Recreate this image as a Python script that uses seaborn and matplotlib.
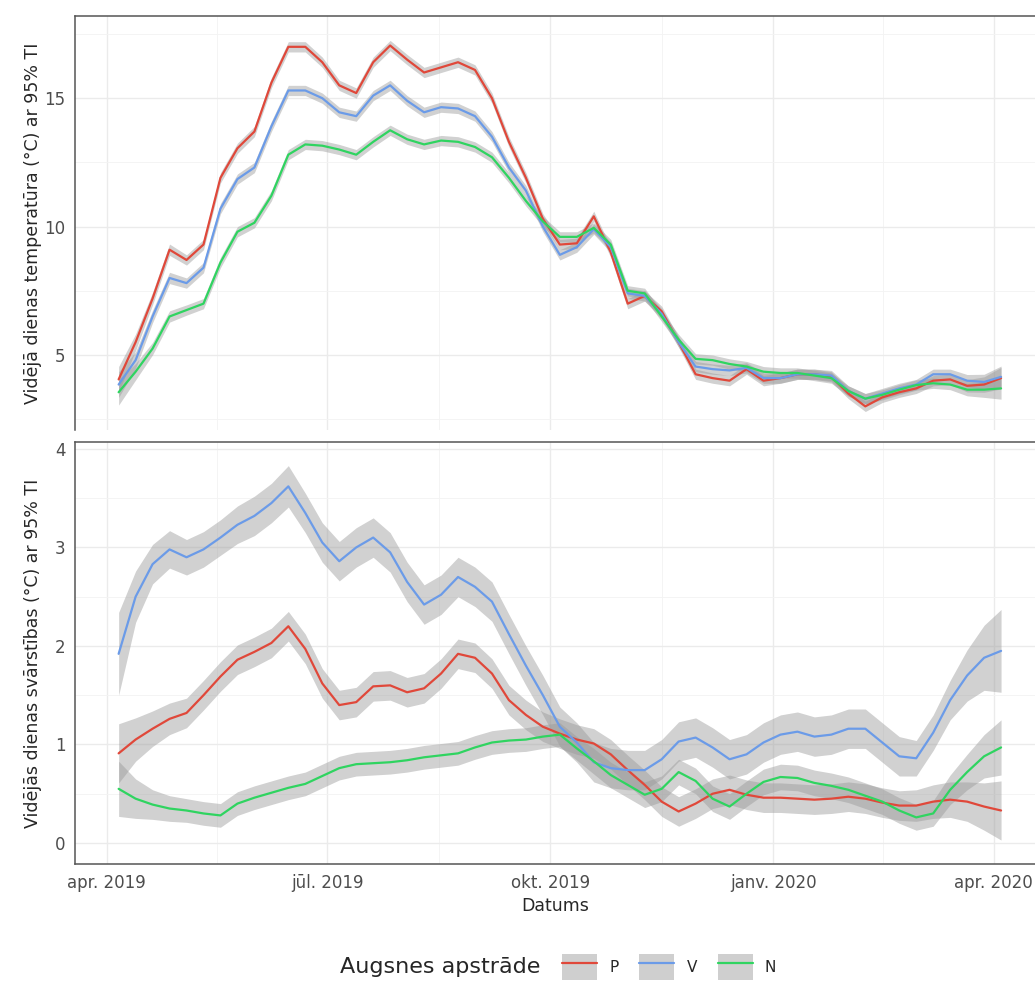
import pandas as pd
import numpy as np
import matplotlib
matplotlib.use("Agg")
import matplotlib.pyplot as plt
from matplotlib.lines import Line2D
from matplotlib.patches import Patch
import seaborn as sns

# weekly samples
dates = pd.date_range("2019-04-06", periods=53, freq="7D")
groups = ["P", "V", "N"]
colors = {"P": "#E0483A", "V": "#6B9BE8", "N": "#2FD460"}

temp_P = [4.05, 5.5, 7.2, 9.1, 8.7, 9.3, 11.9, 13.05, 13.7, 15.6,
          17.0, 17.0, 16.4, 15.5, 15.2, 16.4, 17.05, 16.5, 16.0, 16.2,
          16.4, 16.1, 15.0, 13.3, 11.9, 10.3, 9.3, 9.35, 10.4, 9.0,
          7.0, 7.3, 6.7, 5.5, 4.25, 4.1, 4.0, 4.45, 4.0, 4.1,
          4.25, 4.25, 4.15, 3.5, 3.0, 3.35, 3.55, 3.7, 4.0, 4.05,
          3.8, 3.85, 4.1]
temp_V = [3.85, 4.8, 6.5, 8.0, 7.8, 8.4, 10.7, 11.85, 12.3, 13.9,
          15.3, 15.3, 15.0, 14.45, 14.3, 15.1, 15.5, 14.9, 14.45, 14.65,
          14.6, 14.3, 13.5, 12.3, 11.4, 10.0, 8.9, 9.2, 9.9, 9.2,
          7.4, 7.3, 6.6, 5.5, 4.55, 4.45, 4.4, 4.5, 4.1, 4.1,
          4.25, 4.25, 4.2, 3.6, 3.3, 3.5, 3.7, 3.85, 4.25, 4.25,
          4.0, 3.95, 4.15]
temp_N = [3.55, 4.35, 5.25, 6.5, 6.75, 7.0, 8.6, 9.8, 10.15, 11.2,
          12.8, 13.2, 13.15, 13.0, 12.8, 13.3, 13.75, 13.4, 13.2, 13.35,
          13.3, 13.1, 12.7, 11.9, 11.0, 10.2, 9.6, 9.6, 9.95, 9.3,
          7.5, 7.4, 6.5, 5.6, 4.85, 4.8, 4.65, 4.55, 4.35, 4.3,
          4.3, 4.2, 4.1, 3.6, 3.3, 3.45, 3.65, 3.83, 3.9, 3.85,
          3.65, 3.65, 3.7]
temp_ci = [0.5, 0.32, 0.24, 0.22, 0.2, 0.2, 0.2, 0.2, 0.2, 0.2,
           0.2, 0.2, 0.2, 0.2, 0.2, 0.2, 0.2, 0.2, 0.2, 0.2,
           0.2, 0.2, 0.2, 0.2, 0.2, 0.2, 0.2, 0.2, 0.2, 0.2,
           0.2, 0.2, 0.2, 0.2, 0.2, 0.2, 0.2, 0.2, 0.2, 0.2,
           0.2, 0.2, 0.2, 0.2, 0.2, 0.2, 0.2, 0.2, 0.2, 0.2,
           0.24, 0.3, 0.42]

amp_P = [0.91, 1.05, 1.16, 1.26, 1.32, 1.5, 1.69, 1.86, 1.94, 2.03,
         2.2, 1.97, 1.62, 1.4, 1.43, 1.59, 1.6, 1.53, 1.57, 1.72,
         1.92, 1.88, 1.72, 1.45, 1.3, 1.18, 1.11, 1.05, 1.01, 0.9,
         0.74, 0.59, 0.42, 0.32, 0.4, 0.5, 0.54, 0.49, 0.46, 0.46,
         0.45, 0.44, 0.45, 0.47, 0.45, 0.41, 0.38, 0.38, 0.42, 0.44,
         0.42, 0.37, 0.33]
amp_V = [1.92, 2.5, 2.83, 2.98, 2.9, 2.98, 3.1, 3.23, 3.32, 3.45,
         3.62, 3.35, 3.05, 2.86, 3.0, 3.1, 2.95, 2.65, 2.42, 2.52,
         2.7, 2.6, 2.45, 2.12, 1.8, 1.5, 1.18, 1.02, 0.82, 0.76,
         0.74, 0.74, 0.85, 1.03, 1.07, 0.97, 0.85, 0.9, 1.02, 1.1,
         1.13, 1.08, 1.1, 1.16, 1.16, 1.02, 0.88, 0.86, 1.12, 1.45,
         1.7, 1.88, 1.95]
amp_N = [0.55, 0.45, 0.39, 0.35, 0.33, 0.3, 0.28, 0.4, 0.46, 0.51,
         0.56, 0.6, 0.68, 0.76, 0.8, 0.81, 0.82, 0.84, 0.87, 0.89,
         0.91, 0.97, 1.02, 1.04, 1.05, 1.08, 1.1, 0.96, 0.83, 0.69,
         0.59, 0.49, 0.55, 0.72, 0.63, 0.45, 0.37, 0.5, 0.62, 0.67,
         0.66, 0.61, 0.58, 0.54, 0.48, 0.42, 0.33, 0.26, 0.3, 0.54,
         0.72, 0.88, 0.97]
amp_ci_P = [0.3, 0.22, 0.18, 0.16, 0.15, 0.15, 0.15, 0.15, 0.15, 0.15,
            0.15, 0.15, 0.15, 0.15, 0.15, 0.15, 0.15, 0.15, 0.15, 0.15,
            0.15, 0.15, 0.15, 0.15, 0.15, 0.15, 0.15, 0.15, 0.15, 0.15,
            0.15, 0.15, 0.15, 0.15, 0.15, 0.15, 0.15, 0.15, 0.15, 0.15,
            0.15, 0.15, 0.15, 0.15, 0.15, 0.15, 0.15, 0.16, 0.17, 0.18,
            0.2, 0.24, 0.3]
amp_ci_V = [0.42, 0.26, 0.2, 0.19, 0.18, 0.18, 0.18, 0.19, 0.2, 0.2,
            0.21, 0.2, 0.2, 0.2, 0.2, 0.2, 0.2, 0.2, 0.2, 0.2,
            0.2, 0.2, 0.2, 0.2, 0.2, 0.2, 0.2, 0.2, 0.2, 0.2,
            0.2, 0.2, 0.2, 0.2, 0.2, 0.2, 0.2, 0.2, 0.2, 0.2,
            0.2, 0.2, 0.2, 0.2, 0.2, 0.2, 0.2, 0.18, 0.18, 0.2,
            0.26, 0.33, 0.42]
amp_ci_N = [0.28, 0.2, 0.15, 0.13, 0.12, 0.12, 0.12, 0.12, 0.12, 0.12,
            0.12, 0.12, 0.12, 0.12, 0.12, 0.12, 0.12, 0.12, 0.12, 0.12,
            0.12, 0.12, 0.12, 0.12, 0.12, 0.12, 0.12, 0.12, 0.13, 0.13,
            0.13, 0.13, 0.13, 0.13, 0.13, 0.13, 0.13, 0.13, 0.13, 0.13,
            0.13, 0.13, 0.13, 0.13, 0.13, 0.13, 0.13, 0.13, 0.13, 0.15,
            0.18, 0.22, 0.28]

x_ticks = pd.to_datetime(["2019-04-01", "2019-07-01", "2019-10-01", "2020-01-01", "2020-04-01"])
x_labels = ["apr. 2019", "jūl. 2019", "okt. 2019", "janv. 2020", "apr. 2020"]

sns.set_theme(style="white")
plt.rcParams["font.family"] = ["DejaVu Sans"]

W, H = 1035, 985
fig = plt.figure(figsize=(W / 100, H / 100), dpi=100)
ax1 = fig.add_axes([75 / W, 1 - 430 / H, 960 / W, (430 - 16) / H])
ax2 = fig.add_axes([75 / W, 1 - 864 / H, 960 / W, (864 - 442) / H])


def draw_panel(ax, values, cis):
    for g in groups:
        v = np.array(values[g])
        c = np.array(cis[g])
        ax.fill_between(dates, v - c, v + c, color="#999999", alpha=0.45, lw=0)
        part = pd.DataFrame({"Datums": dates, "vert": v})
        sns.lineplot(data=part, x="Datums", y="vert", color=colors[g], lw=1.6, ax=ax)


draw_panel(ax1, {"P": temp_P, "V": temp_V, "N": temp_N},
           {"P": temp_ci, "V": temp_ci, "N": temp_ci})
draw_panel(ax2, {"P": amp_P, "V": amp_V, "N": amp_N},
           {"P": amp_ci_P, "V": amp_ci_V, "N": amp_ci_N})

mid = [x_ticks[i] + (x_ticks[i + 1] - x_ticks[i]) / 2 for i in range(len(x_ticks) - 1)]
for ax in (ax1, ax2):
    ax.set_xlim(pd.Timestamp("2019-03-19"), pd.Timestamp("2020-04-18"))
    ax.set_xticks(x_ticks)
    ax.set_xticks(mid, minor=True)
    ax.grid(which="major", color="#EBEBEB", lw=1.0)
    ax.grid(which="minor", color="#F3F3F3", lw=0.6)
    ax.set_axisbelow(True)
    ax.tick_params(which="major", length=4, width=0.9, color="#333333",
                   labelcolor="#4D4D4D", labelsize=12, pad=3)
    ax.tick_params(which="minor", length=0)
    for s in ax.spines.values():
        s.set_color("#555555")
        s.set_linewidth(1.1)
    ax.spines["right"].set_visible(False)

ax1.set_ylim(2.08, 18.2)
ax1.set_yticks([5, 10, 15])
ax1.set_yticks([2.5, 7.5, 12.5, 17.5], minor=True)
ax1.spines["bottom"].set_visible(False)
ax1.tick_params(axis="x", which="both", length=0, labelbottom=False)
ax1.set_xlabel("")
ax1.set_ylabel("Vidējā dienas temperatūra (°C) ar 95% TI", fontsize=12.5)
ax1.yaxis.set_label_coords(-0.034, 0.5)

ax2.set_ylim(-0.213, 4.07)
ax2.set_yticks([0, 1, 2, 3, 4])
ax2.set_yticks([0.5, 1.5, 2.5, 3.5], minor=True)
ax2.set_xticklabels(x_labels)
ax2.set_xlabel("Datums", fontsize=12.5)
ax2.xaxis.set_label_coords(0.5, -0.078)
ax2.set_ylabel("Vidējās dienas svārstības (°C) ar 95% TI", fontsize=12.5)
ax2.yaxis.set_label_coords(-0.034, 0.5)

handles = [(Patch(facecolor="#CFCFCF", edgecolor="none"),
            Line2D([], [], color=colors[g], lw=1.6)) for g in groups]
fig.text(340 / W, 1 - 967 / H, "Augsnes apstrāde", ha="left", va="center", fontsize=16)
fig.legend(handles, groups, loc="center left", bbox_to_anchor=(562 / W, 1 - 967 / H),
           ncol=3, frameon=False, fontsize=11, handlelength=2.3, handleheight=2.3,
           handletextpad=0.8, columnspacing=1.35, borderpad=0, borderaxespad=0)

fig.savefig("out.png", dpi=100)
